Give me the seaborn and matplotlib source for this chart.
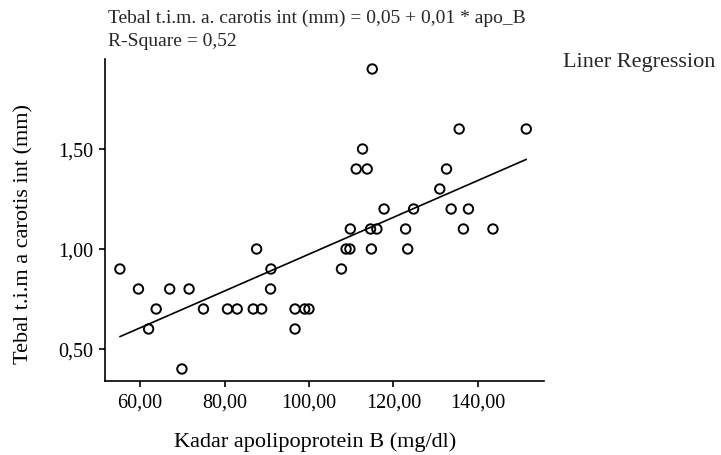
import matplotlib
matplotlib.use("Agg")
import matplotlib.pyplot as plt
import seaborn as sns
import pandas as pd
from matplotlib.ticker import FuncFormatter

sns.set_style("ticks")
plt.rcParams['font.family'] = ['Liberation Serif', 'DejaVu Serif']

# data
apo_b = [55.2, 59.6, 62.0, 63.8, 67.0, 69.9, 71.6, 75.0, 80.7, 83.0,
         86.8, 87.6, 88.8, 90.9, 91.0, 96.7, 96.7, 99.0, 100.0, 107.7,
         108.8, 109.7, 109.8, 111.2, 112.7, 113.8, 114.6, 114.8, 115.0, 116.1,
         117.8, 122.9, 123.4, 124.8, 131.0, 132.6, 133.7, 135.6, 136.6, 137.8,
         143.6, 151.5]
tim = [0.90, 0.80, 0.60, 0.70, 0.80, 0.40, 0.80, 0.70, 0.70, 0.70,
       0.70, 1.00, 0.70, 0.80, 0.90, 0.70, 0.60, 0.70, 0.70, 0.90,
       1.00, 1.00, 1.10, 1.40, 1.50, 1.40, 1.10, 1.00, 1.90, 1.10,
       1.20, 1.10, 1.00, 1.20, 1.30, 1.40, 1.20, 1.60, 1.10, 1.20,
       1.10, 1.60]
x_ticks = [60, 80, 100, 120, 140]
y_ticks = [0.5, 1.0, 1.5]

df = pd.DataFrame({'apo_B': apo_b, 'tim': tim})

fig = plt.figure(figsize=(7.21, 4.56), dpi=100)
ax = fig.add_axes([104.7 / 721, 1 - 382 / 456, (544 - 104.7) / 721, (382 - 60) / 456])

sns.scatterplot(data=df, x='apo_B', y='tim', ax=ax, marker='o', s=46,
                facecolor='none', edgecolor='black', linewidth=1.4)
sns.regplot(data=df, x='apo_B', y='tim', ax=ax, scatter=False, ci=None,
            color='black', line_kws={'linewidth': 1.2})

ax.set_xlim(51.6, 155.7)
ax.set_ylim(0.34, 1.95)
ax.set_xticks(x_ticks)
ax.set_yticks(y_ticks)
comma = FuncFormatter(lambda v, p: f"{v:.2f}".replace('.', ','))
ax.xaxis.set_major_formatter(comma)
ax.yaxis.set_major_formatter(comma)
ax.tick_params(labelsize=14.5, length=4.5, width=1.2, color='black', labelcolor='black')
sns.despine(ax=ax)
for s in ['left', 'bottom']:
    ax.spines[s].set_color('black')
    ax.spines[s].set_linewidth(1.2)

ax.set_xlabel('Kadar apolipoprotein B (mg/dl)', fontsize=16, color='black', va='center')
ax.xaxis.set_label_coords(0.479, -0.186)
ax.set_ylabel('Tebal t.i.m a carotis int (mm)', fontsize=16, color='black', va='center')
ax.yaxis.set_label_coords(-0.184, 0.46)

fig.text(108 / 721, 1 - 18 / 456, 'Tebal t.i.m. a. carotis int (mm) = 0,05 + 0,01 * apo_B',
         fontsize=14, va='center', ha='left')
fig.text(108 / 721, 1 - 42 / 456, 'R-Square = 0,52', fontsize=14, va='center', ha='left')
fig.text(563 / 721, 1 - 63 / 456, 'Liner Regression', fontsize=16, va='center', ha='left')

fig.savefig('out.png', dpi=100)
